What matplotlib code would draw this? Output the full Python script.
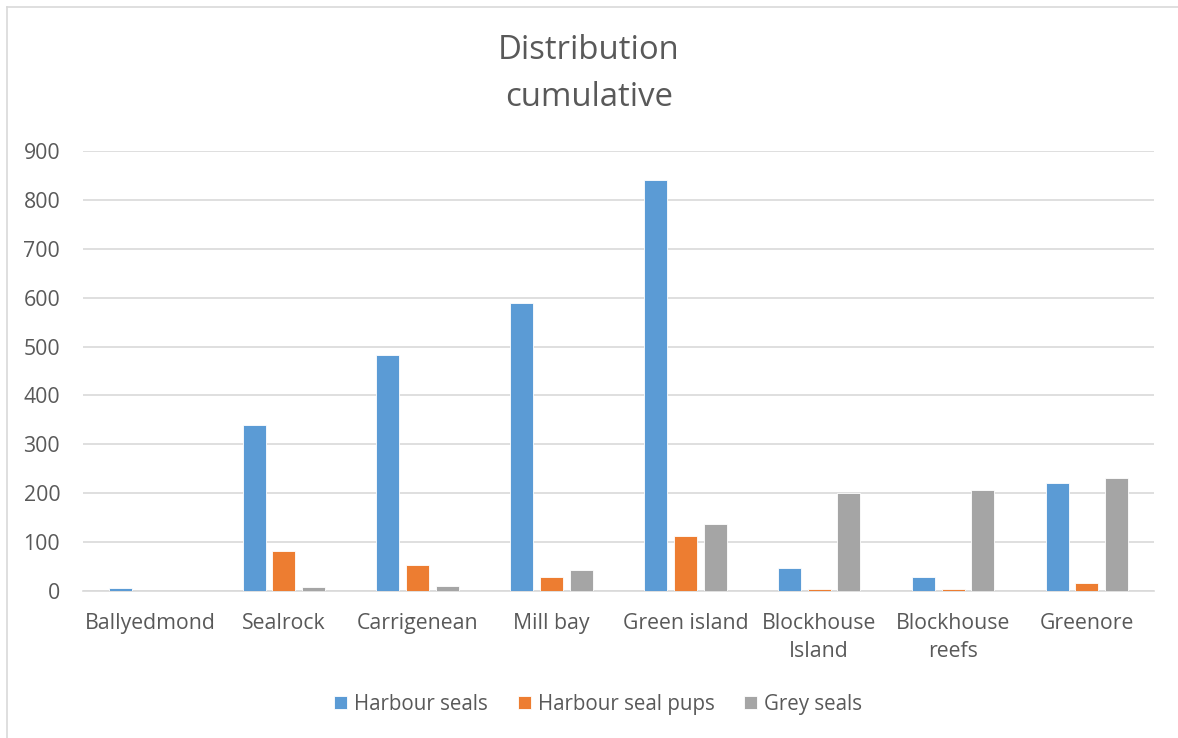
import numpy as np
import matplotlib
matplotlib.use('Agg')
import matplotlib.pyplot as plt

sites = ['Ballyedmond', 'Sealrock', 'Carrigenean', 'Mill bay', 'Green island',
         'Blockhouse\nIsland', 'Blockhouse\nreefs', 'Greenore']
harbour_seals = [7, 340, 482, 589, 841, 47, 29, 221]
harbour_pups = [0, 82, 54, 29, 112, 4, 5, 16]
grey_seals = [0, 9, 10, 42, 138, 200, 207, 231]

series = [('Harbour seals', harbour_seals, '#5b9bd5'),
          ('Harbour seal pups', harbour_pups, '#ed7d31'),
          ('Grey seals', grey_seals, '#a5a5a5')]

plt.rcParams['font.family'] = ['Open Sans', 'DejaVu Sans']
text_col = '#595959'

fig = plt.figure(figsize=(11.78, 7.38), dpi=100)
ax = fig.add_axes([0.0705, 0.1992, 0.909, 0.5962])

x = np.arange(len(sites))
width = 0.172
step = 0.222
for i, (name, vals, col) in enumerate(series):
    ax.bar(x + (i - 1) * step, vals, width, color=col, label=name,
           edgecolor='white', linewidth=0.6, zorder=3)

ax.set_xlim(-0.5, len(sites) - 0.5)
ax.set_ylim(0, 900)
ax.set_yticks(range(0, 901, 100))
ax.set_xticks(x)
ax.set_xticklabels(sites, fontsize=15.3, color=text_col, linespacing=1.45)
ax.tick_params(axis='y', labelsize=15.3, labelcolor=text_col, length=0, pad=16.5)
ax.tick_params(axis='x', length=0, pad=16)
ax.grid(axis='y', color='#d9d9d9', linewidth=1.2, zorder=0)
for s in ['top', 'right', 'left']:
    ax.spines[s].set_visible(False)
ax.spines['bottom'].set_color('#d9d9d9')
ax.spines['bottom'].set_linewidth(1.2)

fig.text(0.5, 0.9, 'Distribution\ncumulative', ha='center', va='center',
         fontsize=23.7, color=text_col, linespacing=1.58)

fig.legend(loc='center', bbox_to_anchor=(0.508, 0.046), ncol=3, frameon=False,
           fontsize=14.8, handlelength=0.62, handleheight=0.62, columnspacing=1.45,
           handletextpad=0.35, labelcolor=text_col)

# chart area border (left and top edges visible)
fig.add_artist(plt.Line2D([0.006, 0.006], [0.0, 0.991], color='#d9d9d9', lw=1.2))
fig.add_artist(plt.Line2D([0.006, 1.0], [0.991, 0.991], color='#d9d9d9', lw=1.2))

fig.savefig('out.png', dpi=100, facecolor='white')
